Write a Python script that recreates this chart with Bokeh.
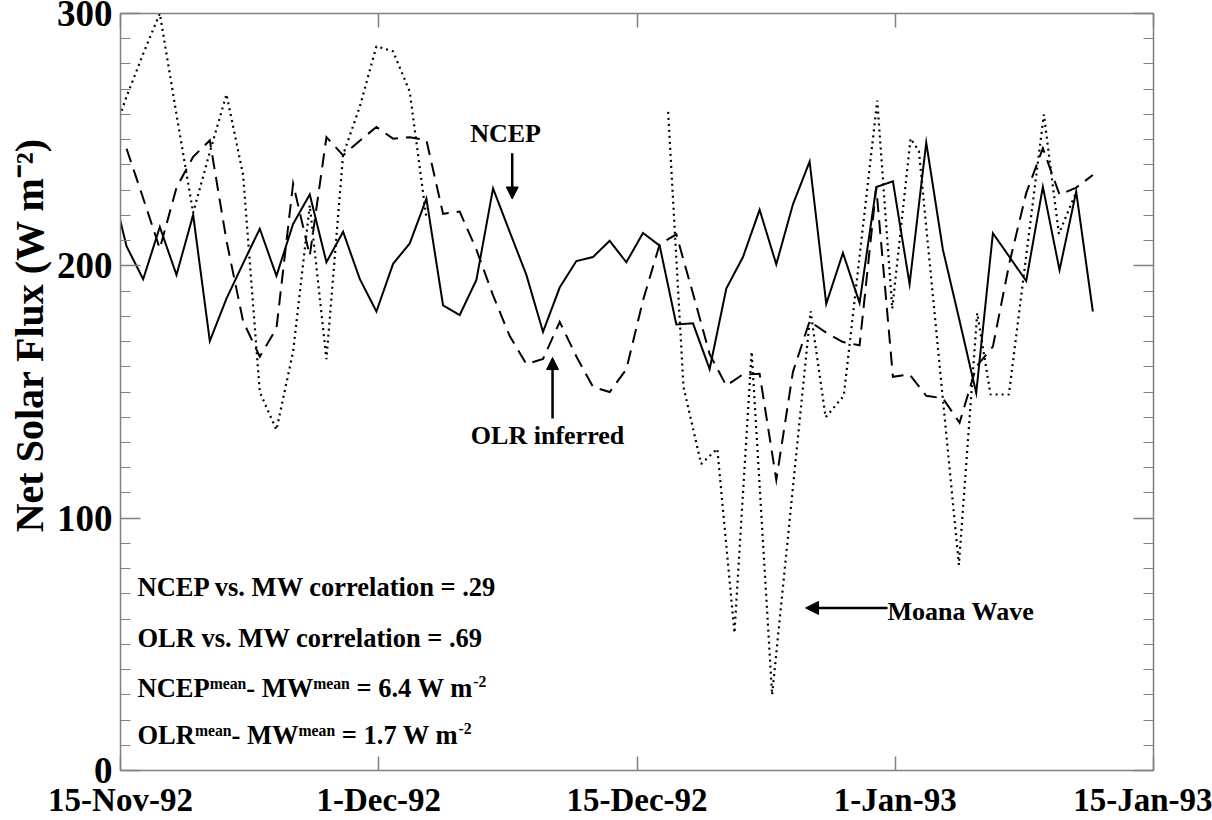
from bokeh.plotting import figure
from bokeh.models import FixedTicker, LinearAxis, Range1d, Label, Arrow, NormalHead, Title
from bokeh.embed import file_html
from bokeh.resources import INLINE

# ---------------- data ----------------
# x axis: days since 15-Nov-92 (five equally spaced date labels, 15.5 days apart)
TICK_DAYS = [0, 15.5, 31, 46.5, 62]
TICK_LABELS = ["15-Nov-92", "1-Dec-92", "15-Dec-92", "1-Jan-93", "15-Jan-93"]
Y_MAJOR = [0, 100, 200, 300]

# daily samples (day index, sampled at 0.36 of the day)
SAMPLE_FRAC = 0.36
DAY_INDEX = [-1, 0, 1, 2, 3, 4, 5, 6, 7, 8, 9, 10, 11, 12, 13, 14, 15, 16, 17, 18,
             19, 20, 21, 22, 23, 24, 25, 26, 27, 28, 29, 30, 31, 32, 33, 34, 35, 36, 37, 38,
             39, 40, 41, 42, 43, 44, 45, 46, 47, 48, 49, 50, 51, 52, 53, 54, 55, 56, 57, 58]

NCEP = [235, 207.8, 194.7, 215.4, 196.4, 220.2, 170.2, 187, 201, 214.7,
        196, 216.6, 228.3, 201.4, 213.5, 194.8, 181.9, 200.8, 208.9, 226.6,
        184.3, 180.5, 194.4, 230.7, 213.5, 196.4, 173.8, 191.4, 201.9, 203.5,
        209.9, 201.4, 213, 208, 176.8, 177.2, 159.1, 191, 203.5, 222.2,
        200.6, 224.4, 241.3, 184.9, 205.1, 185.3, 231.2, 233.5, 192.8, 248.8,
        206.4, 178.2, 149.6, 212.9, 203.5, 194, 231.3, 198.3, 229.4, 181.9]

OLR = [252, 246.5, 226.8, 206.8, 231, 243.2, 249.7, 210, 178, 164,
       175.2, 232.6, 204, 251, 243.8, 249.6, 255, 250.4, 251, 249.8,
       220.6, 221.5, 206.4, 188.3, 172.2, 161.1, 163.1, 177.8, 164.1, 152,
       150, 159, 186.3, 208.5, 212.5, 189, 165, 152.5, 157, 157.2,
       115.2, 158, 178, 173.5, 169.8, 168.5, 231.1, 156, 157, 148.5,
       147.5, 137.8, 160, 168, 201.4, 228.8, 246.6, 228.2, 231, 236]

# Moana Wave ship record (two segments, gap in between)
MW1_DAY = [-0.64, 0.36, 1.36, 2.36, 3.36, 4.36, 5.36, 6.36, 7.36, 8.36,
           9.36, 10.36, 11.36, 12.36, 13.36, 14.36, 15.36, 16.36, 17.36, 18.36]
MW1 = [248, 267, 284, 300, 260, 221, 245, 268, 236, 150,
       135, 166, 224, 163, 244, 263, 287, 285, 269, 219]

MW2_DAY = [32.87, 33.79, 34.85, 35.82, 36.85, 37.88, 39.11, 41.42, 42.32, 43.41,
           45.42, 46.32, 47.42, 47.92, 50.32, 51.42, 52.22, 53.32, 55.42, 56.32, 57.32]
MW2 = [261, 152, 121.5, 127.5, 54.5, 166, 30, 182, 140, 148.5,
       265.5, 183, 250.5, 245.5, 81.5, 181.3, 149, 149, 260, 212.7, 228.6]

Y_TITLE = "Net Solar Flux  (W m\u207b\u00b2)"
STATS_1 = "NCEP vs. MW correlation = .29"
STATS_2 = "OLR vs. MW correlation = .69"
STATS_3 = [("NCEP", "n"), ("mean", "s"), ("- MW", "n"), ("mean", "s"), (" = 6.4 W m", "n"), ("-2", "t")]
STATS_4 = [("OLR", "n"), ("mean", "s"), ("- MW", "n"), ("mean", "s"), (" = 1.7 W m", "n"), ("-2", "t")]

# ---------------- figure ----------------
FONT = "Liberation Serif"
GREY = "#808080"

p = figure(width=1212, height=820, x_range=Range1d(0, 62), y_range=Range1d(0, 300),
           output_backend="svg", toolbar_location=None,
           x_axis_location="below", y_axis_location="left",
           min_border_left=120, min_border_right=59, min_border_top=13, min_border_bottom=48)
p.outline_line_color = None
p.xgrid.visible = False
p.ygrid.visible = False
p.background_fill_color = "white"
p.border_fill_color = "white"

bottom_ax = p.below[0]
left_ax = p.left[0]
right_ax = LinearAxis()
above_ax = LinearAxis()
p.add_layout(right_ax, "right")
p.add_layout(above_ax, "above")

x_ticker = FixedTicker(ticks=TICK_DAYS, minor_ticks=[])
y_ticker = FixedTicker(ticks=Y_MAJOR, minor_ticks=list(range(0, 301, 10)))

for ax in [bottom_ax, above_ax]:
    ax.ticker = x_ticker
    ax.major_tick_in = 14
    ax.minor_tick_line_color = None
for ax in [left_ax, right_ax]:
    ax.ticker = y_ticker
    ax.major_tick_in = 20
    ax.minor_tick_in = 10
    ax.minor_tick_line_color = GREY
for ax in [bottom_ax, left_ax, right_ax, above_ax]:
    ax.axis_line_color = GREY
    ax.axis_line_width = 1.5
    ax.major_tick_line_color = GREY
    ax.major_tick_line_width = 1.5
    ax.minor_tick_line_width = 1.2
    ax.major_tick_out = 0
    ax.minor_tick_out = 0
    ax.major_label_text_font = FONT
    ax.major_label_text_font_style = "bold"
    ax.major_label_text_color = "black"
for ax in [right_ax, above_ax]:
    ax.major_label_text_color = None
    ax.major_label_text_font_size = "1px"
    ax.major_label_standoff = 0

bottom_ax.major_label_overrides = {t: l for t, l in zip(TICK_DAYS, TICK_LABELS)}
bottom_ax.major_label_text_font_size = "33px"
bottom_ax.major_label_standoff = 11
left_ax.major_label_text_font_size = "37px"
left_ax.major_label_standoff = 8

# y-axis title, placed toward the top of the left side as in the reference
p.add_layout(Title(text=Y_TITLE, align="right", offset=114, text_font=FONT,
                   text_font_style="bold", text_font_size="40px", text_color="black",
                   standoff=3), "left")

# ---------------- series ----------------
x_daily = [d + SAMPLE_FRAC for d in DAY_INDEX]
p.line(x_daily, NCEP, line_color="black", line_width=2, line_join="miter")
p.line(x_daily, OLR, line_color="black", line_width=2, line_dash="14 8", line_join="miter")
p.line(MW1_DAY, MW1, line_color="black", line_width=2.2, line_dash="2 4")
p.line(MW2_DAY, MW2, line_color="black", line_width=2.2, line_dash="2 4")

# ---------------- annotations (placed via page-pixel helpers) ----------------
def dx(px):
    return (px - 120.0) / 16.66

def dy(py):
    return (772.0 - py) / 2.53

def label(px, base_py, text, size=26.5, align="left"):
    # base_py is the alphabetic baseline in page pixels; draw with a middle baseline
    p.add_layout(Label(x=dx(px), y=dy(base_py - 0.3375 * size), text=text, text_font=FONT,
                       text_font_style="bold", text_font_size=f"{size}px", text_color="black",
                       text_align=align, text_baseline="middle"))

label(505, 142, "NCEP", size=26, align="center")
p.add_layout(Arrow(x_start=dx(511.7), y_start=dy(153), x_end=dx(511.7), y_end=dy(199),
                   line_width=2.5, end=NormalHead(size=12, fill_color="black", line_color="black")))
label(547, 445, "OLR inferred", size=26, align="center")
p.add_layout(Arrow(x_start=dx(552), y_start=dy(419), x_end=dx(552), y_end=dy(358),
                   line_width=2.5, end=NormalHead(size=12, fill_color="black", line_color="black")))
label(887, 621, "Moana Wave", size=26)
p.add_layout(Arrow(x_start=dx(887), y_start=dy(609), x_end=dx(805), y_end=dy(609),
                   line_width=2.5, end=NormalHead(size=13, fill_color="black", line_color="black")))

MAIN = 26.5
SUP = 15.7
W = {' ': 250, '-': 333, '.': 250, '=': 570, 'N': 722, 'C': 722, 'E': 667, 'P': 611,
     'O': 778, 'L': 667, 'R': 722, 'M': 944, 'W': 1000, 'm': 833, 'e': 444, 'a': 500,
     'n': 556, 'v': 500, 's': 389, 'c': 444, 'o': 500, 'r': 444, 'l': 278, 't': 333, 'i': 278}

def width(text, size):
    return sum(W.get(ch, 500) for ch in text) / 1000.0 * size

def rich(px, base, parts):
    x = px
    for text, kind in parts:
        size = MAIN if kind == "n" else SUP
        stripped = text.lstrip(" ")
        x += width(text[:len(text) - len(stripped)], size)
        raise_px = {"n": 0, "s": 7.5, "t": 10}[kind]
        label(x, base - raise_px, stripped, size=size)
        x += width(stripped, size)

label(137, 597, STATS_1, size=MAIN)
label(137, 648, STATS_2, size=MAIN)
rich(137, 698, STATS_3)
rich(137, 745, STATS_4)

open("out.html", "w").write(file_html(p, INLINE))
